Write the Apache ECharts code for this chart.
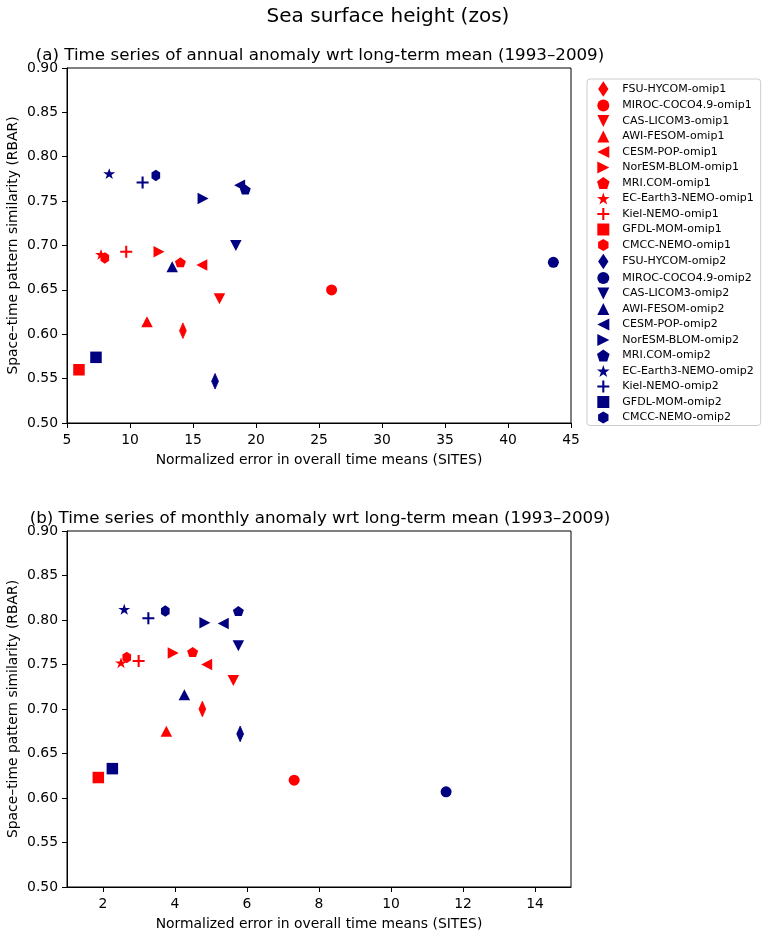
<!DOCTYPE html>
<html>
<head>
<meta charset="utf-8">
<script src="https://cdn.jsdelivr.net/npm/echarts@6/dist/echarts.min.js"></script>
<style>
html,body{margin:0;padding:0;background:#fff;}
#chart{width:768px;height:937px;}
</style>
</head>
<body>
<div id="chart"></div>
<script>
// ---- data ----
const models = ['FSU-HYCOM','MIROC-COCO4.9','CAS-LICOM3','AWI-FESOM','CESM-POP','NorESM-BLOM','MRI.COM','EC-Earth3-NEMO','Kiel-NEMO','GFDL-MOM','CMCC-NEMO'];
const experiments = ['omip1','omip2'];

// (a) annual anomaly
const annualX1 = [14.2, 26.0, 17.1, 11.35, 15.7, 12.3, 14.0, 7.7, 9.7, 5.95, 8.0];
const annualY1 = [0.604, 0.650, 0.640, 0.614, 0.678, 0.693, 0.681, 0.690, 0.693, 0.560, 0.686];
const annualX2 = [16.75, 43.6, 18.4, 13.35, 18.7, 15.8, 19.15, 8.35, 11.0, 7.3, 12.05];
const annualY2 = [0.547, 0.681, 0.700, 0.676, 0.768, 0.753, 0.763, 0.781, 0.771, 0.574, 0.779];

// (b) monthly anomaly
const monthlyX1 = [4.76, 7.31, 5.62, 3.76, 4.88, 3.95, 4.49, 2.50, 2.99, 1.87, 2.66];
const monthlyY1 = [0.700, 0.620, 0.732, 0.675, 0.750, 0.763, 0.764, 0.752, 0.754, 0.623, 0.758];
const monthlyX2 = [5.81, 11.53, 5.76, 4.26, 5.34, 4.83, 5.76, 2.59, 3.26, 2.26, 3.73];
const monthlyY2 = [0.672, 0.607, 0.771, 0.716, 0.796, 0.797, 0.810, 0.812, 0.802, 0.633, 0.810];

// ticks
const xTicksA = [5, 10, 15, 20, 25, 30, 35, 40, 45];
const xTicksB = [2, 4, 6, 8, 10, 12, 14];
const yTicks = [0.50, 0.55, 0.60, 0.65, 0.70, 0.75, 0.80, 0.85, 0.90];

// ---- styles ----
const colors = {omip1: '#ff0000', omip2: '#000080'};
const markers = [
  'path://M0,-10L6.6,0L0,10L-6.6,0Z',                   // thin diamond
  'circle',
  'path://M-10,-10L10,-10L0,10Z',                       // triangle down
  'path://M0,-10L10,10L-10,10Z',                        // triangle up
  'path://M-10,0L10,-10L10,10Z',                        // triangle left
  'path://M10,0L-10,-10L-10,10Z',                       // triangle right
  'path://M0,-10L9.511,-3.09L5.878,8.09L-5.878,8.09L-9.511,-3.09Z', // pentagon
  'path://M0,-10L2.245,-3.09L9.511,-3.09L3.633,1.18L5.878,8.09L0,3.82L-5.878,8.09L-3.633,1.18L-9.511,-3.09L-2.245,-3.09Z', // star
  'path://M-1.9,-11L1.9,-11L1.9,-1.9L11,-1.9L11,1.9L1.9,1.9L1.9,11L-1.9,11L-1.9,1.9L-11,1.9L-11,-1.9L-1.9,-1.9Z', // plus
  'path://M-10,-10L10,-10L10,10L-10,10Z',               // square
  'path://M0,-10L8.66,-5L8.66,5L0,10L-8.66,5L-8.66,-5Z' // hexagon
];
const sizes = [[10.3,15.6],11,[11.5,11],[11.5,11],[11,11.5],[11,11.5],[11,10.5],[12,11.5],[12,12],[11.5,11.5],[10,11.5]];

const FONT = 'DejaVu Sans';

function buildSeries(panel, X1, Y1, X2, Y2) {
  const out = [];
  experiments.forEach((exp, e) => {
    const X = e === 0 ? X1 : X2;
    const Y = e === 0 ? Y1 : Y2;
    models.forEach((m, i) => {
      out.push({
        name: m + '-' + exp,
        type: 'scatter',
        xAxisIndex: panel,
        yAxisIndex: panel,
        data: [[X[i], Y[i]]],
        symbol: markers[i],
        symbolSize: sizes[i],
        symbolKeepAspect: true,
        itemStyle: {color: colors[exp], opacity: 1, borderColor: colors[exp], borderWidth: i === 0 ? 0.8 : 0},
        emphasis: {disabled: true}
      });
    });
  });
  return out;
}

const series = [].concat(
  buildSeries(0, annualX1, annualY1, annualX2, annualY2),
  buildSeries(1, monthlyX1, monthlyY1, monthlyX2, monthlyY2)
);

const legendNames = [];
experiments.forEach(exp => models.forEach(m => legendNames.push(m + '-' + exp)));

function yAxis(gridIndex) {
  return {
    type: 'value', gridIndex: gridIndex,
    min: 0.5, max: 0.9, interval: 0.05,
    name: 'Space\u2013time pattern similarity (RBAR)',
    nameLocation: 'middle', nameGap: 47, nameMoveOverlap: false,
    nameTextStyle: {fontFamily: FONT, fontSize: 13.9, color: '#000'},
    axisLine: {show: true, lineStyle: {color: '#000', width: 1}},
    axisTick: {show: true, inside: false, length: 5, lineStyle: {color: '#000', width: 1}, customValues: yTicks},
    axisLabel: {fontFamily: FONT, fontSize: 13.9, color: '#000', margin: 9, customValues: yTicks,
      formatter: v => Number(v).toFixed(2)},
    splitLine: {show: false}
  };
}

function xAxis(gridIndex, min, max, ticks) {
  return {
    type: 'value', gridIndex: gridIndex,
    min: min, max: max,
    name: 'Normalized error in overall time means (SITES)',
    nameLocation: 'middle', nameGap: 30,
    nameTextStyle: {fontFamily: FONT, fontSize: 13.9, color: '#000'},
    axisLine: {show: true, onZero: false, lineStyle: {color: '#000', width: 1}},
    axisTick: {show: true, inside: false, length: 5, lineStyle: {color: '#000', width: 1}, customValues: ticks},
    axisLabel: {fontFamily: FONT, fontSize: 13.9, color: '#000', margin: 10, customValues: ticks,
      showMinLabel: true, showMaxLabel: true},
    splitLine: {show: false}
  };
}

const chart = echarts.init(document.getElementById('chart'), null, {renderer: 'canvas'});
chart.setOption({
  animation: false,
  backgroundColor: '#fff',
  title: [
    {text: 'Sea surface height (zos)', left: 388, top: 7, textAlign: 'center', padding: 0,
      textStyle: {fontFamily: FONT, fontSize: 20, fontWeight: 'normal', color: '#000'}},
    {text: '(a) Time series of annual anomaly wrt long-term mean (1993\u20132009)', left: 320, top: 47, textAlign: 'center', padding: 0,
      textStyle: {fontFamily: FONT, fontSize: 16.7, fontWeight: 'normal', color: '#000'}},
    {text: '(b) Time series of monthly anomaly wrt long-term mean (1993\u20132009)', left: 320, top: 510, textAlign: 'center', padding: 0,
      textStyle: {fontFamily: FONT, fontSize: 16.7, fontWeight: 'normal', color: '#000'}}
  ],
  legend: {
    data: legendNames,
    orient: 'vertical',
    left: 587, top: 79,
    padding: [3, 7, 2, 10],
    itemWidth: 28, itemHeight: 12, itemGap: 3.5,
    symbolKeepAspect: true,
    borderColor: '#cccccc', borderWidth: 1, borderRadius: 3,
    backgroundColor: '#fff',
    selectedMode: false,
    textStyle: {fontFamily: FONT, fontSize: 11, color: '#000', lineHeight: 12}
  },
  grid: [
    {left: 67, top: 68, width: 504, height: 355, outerBoundsMode: 'none', show: true, borderColor: '#000', borderWidth: 1, backgroundColor: 'transparent', containLabel: false},
    {left: 67, top: 531, width: 504, height: 356, outerBoundsMode: 'none', show: true, borderColor: '#000', borderWidth: 1, backgroundColor: 'transparent', containLabel: false}
  ],
  xAxis: [xAxis(0, 5, 45, xTicksA), xAxis(1, 1, 15, xTicksB)],
  yAxis: [yAxis(0), yAxis(1)],
  series: series
});
</script>
</body>
</html>
